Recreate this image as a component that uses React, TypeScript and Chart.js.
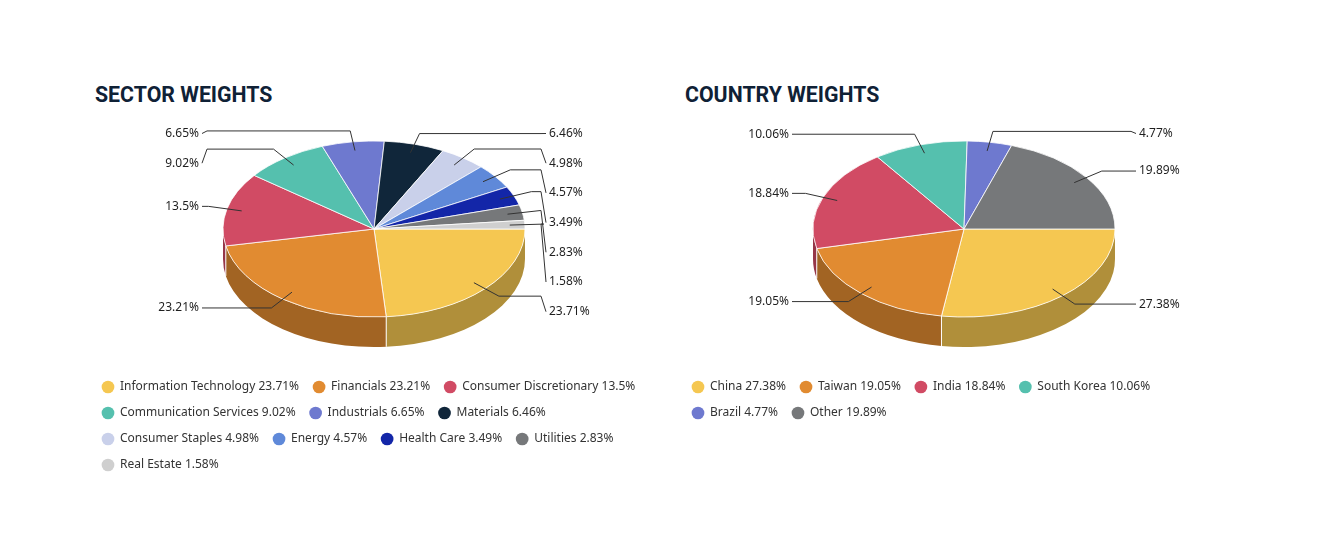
import { useEffect, useRef } from "react";
import { ArcElement, Chart, Legend, PieController } from "chart.js";
import type { Plugin } from "chart.js";

Chart.register(ArcElement, PieController, Legend);

const SECTOR_LABELS = [
  "Information Technology",
  "Financials",
  "Consumer Discretionary",
  "Communication Services",
  "Industrials",
  "Materials",
  "Consumer Staples",
  "Energy",
  "Health Care",
  "Utilities",
  "Real Estate",
];
const SECTOR_VALUES = [23.71, 23.21, 13.5, 9.02, 6.65, 6.46, 4.98, 4.57, 3.49, 2.83, 1.58];
const SECTOR_COLORS = [
  "#F5C751",
  "#E18B31",
  "#D14B64",
  "#55C0AE",
  "#6E79CF",
  "#10263A",
  "#C9D0EA",
  "#5F89D9",
  "#1326A8",
  "#76787A",
  "#CFCFCF",
];

const COUNTRY_LABELS = ["China", "Taiwan", "India", "South Korea", "Brazil", "Other"];
const COUNTRY_VALUES = [27.38, 19.05, 18.84, 10.06, 4.77, 19.89];
const COUNTRY_COLORS = ["#F5C751", "#E18B31", "#D14B64", "#55C0AE", "#6E79CF", "#76787A"];

const FONT = '"Noto Sans", "Open Sans", sans-serif';
const TILT = 0.583; // vertical squash of the top face
const DEPTH = 30; // thickness of the pie
const PANEL_W = 572;

const shade = (hex: string, f = 0.72) => {
  const n = parseInt(hex.slice(1), 16);
  const r = Math.round(((n >> 16) & 255) * f);
  const g = Math.round(((n >> 8) & 255) * f);
  const b = Math.round((n & 255) * f);
  return `rgb(${r},${g},${b})`;
};

// stacks label boxes of height `gap` so they don't overlap, staying near their targets
function distribute(targets: number[], gap: number, min: number, max: number): number[] {
  type Cluster = { idx: number[]; pos: number };
  const place = (c: Cluster) => {
    let p = 0;
    c.idx.forEach((k, j) => (p += targets[k] - j * gap));
    p /= c.idx.length;
    p = Math.min(p, max - (c.idx.length - 1) * gap);
    c.pos = Math.max(p, min);
  };
  const clusters: Cluster[] = targets.map((_, i) => ({ idx: [i], pos: 0 }));
  clusters.forEach(place);
  let changed = true;
  while (changed) {
    changed = false;
    for (let i = 1; i < clusters.length; i++) {
      const a = clusters[i - 1];
      const b = clusters[i];
      if (a.pos + a.idx.length * gap > b.pos + 0.01) {
        a.idx = a.idx.concat(b.idx);
        clusters.splice(i, 1);
        place(a);
        changed = true;
        break;
      }
    }
  }
  const out: number[] = [];
  clusters.forEach((c) => c.idx.forEach((k, j) => (out[k] = c.pos + j * gap)));
  return out;
}

const pie3d: Plugin<"pie"> = {
  id: "pie3d",
  beforeDatasetsDraw(chart) {
    const arcs = chart.getDatasetMeta(0).data as any[];
    if (!arcs.length) return;
    const { ctx } = chart;
    const { x: cx, y: cy, outerRadius: r } = arcs[0];
    const colors = chart.data.datasets[0].backgroundColor as string[];
    const ry = r * TILT;

    ctx.save();
    // front wall, only the half facing the viewer
    arcs.forEach((arc, i) => {
      for (const off of [0, Math.PI * 2]) {
        const a1 = Math.max(arc.startAngle, off);
        const a2 = Math.min(arc.endAngle, off + Math.PI);
        if (a2 <= a1) continue;
        ctx.beginPath();
        ctx.ellipse(cx, cy, r, ry, 0, a1, a2);
        ctx.ellipse(cx, cy + DEPTH, r, ry, 0, a2, a1, true);
        ctx.closePath();
        ctx.fillStyle = shade(colors[i]);
        ctx.fill();
      }
    });
    ctx.strokeStyle = "#ffffff";
    ctx.lineWidth = 1;
    arcs.forEach((arc) => {
      const a = arc.startAngle % (Math.PI * 2);
      if (a <= 0.001 || a >= Math.PI - 0.001) return;
      const px = cx + r * Math.cos(a);
      const py = cy + ry * Math.sin(a);
      ctx.beginPath();
      ctx.moveTo(px, py);
      ctx.lineTo(px, py + DEPTH);
      ctx.stroke();
    });
    ctx.restore();

    // squash the top face drawn by the controller
    ctx.save();
    ctx.translate(cx, cy);
    ctx.scale(1, TILT);
    ctx.translate(-cx, -cy);
    (chart as any).$squashed = true;
  },
  afterDatasetsDraw(chart) {
    if (!(chart as any).$squashed) return;
    (chart as any).$squashed = false;
    const { ctx } = chart;
    ctx.restore();

    const arcs = chart.getDatasetMeta(0).data as any[];
    const values = chart.data.datasets[0].data as number[];
    const { x: cx, y: cy, outerRadius: r } = arcs[0];
    const r1 = r * 0.9;
    const r2 = r1 + 34;
    const items = arcs.map((arc, i) => {
      const mid = (arc.startAngle + arc.endAngle) / 2;
      const c = Math.cos(mid);
      const s = Math.sin(mid);
      return {
        i,
        right: c >= 0,
        tx: cx + r1 * c,
        ty: cy + r1 * s * TILT,
        bx: cx + r2 * c,
        by: cy + r2 * s * TILT,
      };
    });

    ctx.save();
    ctx.font = `12px ${FONT}`;
    ctx.textBaseline = "middle";
    ctx.lineWidth = 1;
    ctx.strokeStyle = "#333333";
    ctx.fillStyle = "#1f1f1f";
    for (const side of [true, false]) {
      const group = items.filter((it) => it.right === side).sort((a, b) => a.by - b.by);
      const ys = distribute(
        group.map((g) => g.by),
        29.7,
        cy - 95.5,
        cy + 130
      );
      group.forEach((g, k) => {
        const y = ys[k];
        const dir = side ? 1 : -1;
        const crookX = cx + dir * 167;
        const endX = cx + dir * 172;
        ctx.beginPath();
        ctx.moveTo(g.tx, g.ty);
        ctx.lineTo(g.bx, g.by);
        ctx.lineTo(crookX, g.by);
        ctx.lineTo(endX, y);
        ctx.stroke();
        ctx.textAlign = side ? "left" : "right";
        ctx.fillText(`${values[g.i]}%`, cx + dir * 175, y);
      });
    }
    ctx.restore();
  },
};

interface PanelProps {
  title: string;
  labels: string[];
  values: number[];
  colors: string[];
  left: number;
  height: number;
}

function PiePanel({ title, labels, values, colors, left, height }: PanelProps) {
  const canvasRef = useRef<HTMLCanvasElement>(null);

  useEffect(() => {
    const canvas = canvasRef.current;
    if (!canvas) return;
    const chart = new Chart(canvas, {
      type: "pie",
      data: {
        labels,
        datasets: [
          {
            data: values,
            backgroundColor: colors,
            borderColor: "#ffffff",
            borderWidth: 1,
            radius: 151,
            clip: false,
          } as any,
        ],
      },
      options: {
        animation: false,
        responsive: true,
        maintainAspectRatio: false,
        events: [],
        rotation: 90,
        layout: { padding: { top: -2, left: 0, right: 0, bottom: 0 } },
        plugins: {
          legend: {
            display: true,
            position: "bottom",
            align: "start",
            labels: {
              usePointStyle: true,
              boxHeight: 9,
              padding: 14,
              color: "#333333",
              font: { family: FONT, size: 12 },
              generateLabels: () =>
                labels.map((l, i) => ({
                  text: `${l} ${values[i]}%`,
                  fillStyle: colors[i],
                  strokeStyle: colors[i],
                  lineWidth: 0,
                  pointStyle: "circle",
                  hidden: false,
                  index: i,
                  fontColor: "#333333",
                })),
            },
          },
          tooltip: { enabled: false },
        },
      },
      plugins: [pie3d],
    });
    return () => chart.destroy();
  }, [labels, values, colors]);

  return (
    <div style={{ position: "absolute", left, top: 0, width: PANEL_W, height: 500 }}>
      <div
        style={{
          position: "absolute",
          left: 7,
          top: 76,
          font: "700 21.3px Roboto, sans-serif",
          lineHeight: "21px",
          color: "#0F2136",
          whiteSpace: "nowrap",
        }}
      >
        {title}
      </div>
      <div style={{ position: "absolute", left: 0, top: 83, width: PANEL_W, height }}>
        <canvas ref={canvasRef} />
      </div>
    </div>
  );
}

export default function App() {
  return (
    <div style={{ position: "relative", width: 1306, height: 518, background: "#ffffff" }}>
      <PiePanel
        title="SECTOR WEIGHTS"
        labels={SECTOR_LABELS}
        values={SECTOR_VALUES}
        colors={SECTOR_COLORS}
        left={80}
        height={390}
      />
      <PiePanel
        title="COUNTRY WEIGHTS"
        labels={COUNTRY_LABELS}
        values={COUNTRY_VALUES}
        colors={COUNTRY_COLORS}
        left={670}
        height={338}
      />
    </div>
  );
}
